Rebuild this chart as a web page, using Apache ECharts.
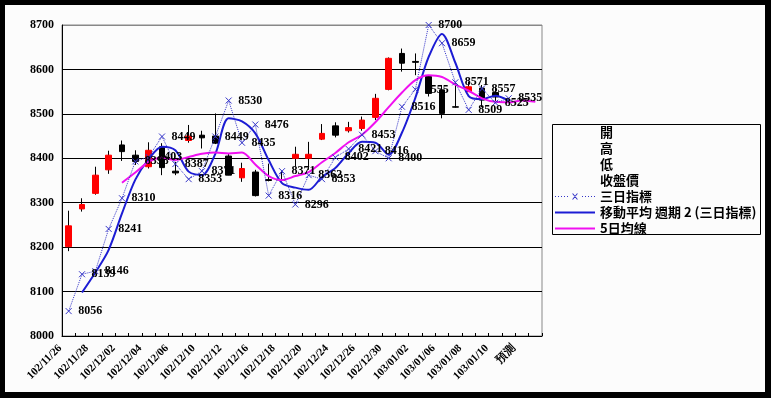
<!DOCTYPE html>
<html><head><meta charset="utf-8">
<script src="https://cdn.jsdelivr.net/npm/echarts@6/dist/echarts.min.js"></script>
<style>
html,body{margin:0;padding:0;background:#000;}
#panel{position:absolute;left:5px;top:5px;width:760px;height:387px;background:#fcfcfc;}
#c{position:absolute;left:0;top:0;width:771px;height:398px;}
</style>
</head><body><div id="panel"></div><div id="c"></div>
<script>
// Categories (trading days, ROC calendar)
const dates = ['102/11/26','102/11/27','102/11/28','102/11/29','102/12/02','102/12/03','102/12/04','102/12/05','102/12/06','102/12/09',
  '102/12/10','102/12/11','102/12/12','102/12/13','102/12/16','102/12/17','102/12/18','102/12/19','102/12/20','102/12/23',
  '102/12/24','102/12/25','102/12/26','102/12/27','102/12/30','102/12/31','103/01/02','103/01/03','103/01/06','103/01/07',
  '103/01/08','103/01/09','103/01/10','103/01/13','預測',''];
// Candles
const opens  = [8201,8286,8321,8374,8430,8407,8381,8426,8371,8440,8452,8450,8405,8356,8369,8352,8351,8400,8400,8443,8473,8462,8467,8492,8555,8636,8618,8584,8554,8516,8550,8558,8548,null,null,null];
const closes = [8248,8296,8362,8407,8415,8393,8418,8379,8367,8450,8446,8434,8362,8377,8316,8350,8350,8409,8409,8456,8452,8469,8486,8535,8625,8614,8616,8546,8501,8515,8561,8531,8538,null,null,null];
const lows   = [8191,8280,8318,8365,8394,8385,8377,8362,8362,8435,8422,8432,8362,8347,8314,8348,8348,8381,8374,8441,8447,8458,8462,8486,8553,8595,8587,8539,8490,8514,8550,8515,8528,null,null,null];
const highs  = [8282,8310,8381,8417,8440,8418,8436,8434,8392,8475,8462,8501,8410,8390,8374,8388,8372,8426,8437,8477,8481,8482,8494,8545,8627,8647,8636,8587,8565,8569,8572,8565,8560,null,null,null];
// 三日指標
const sanRi = [8056,8139,8146,8241,8310,8393,8403,8449,8387,8353,8371,8449,8530,8435,8476,8316,8371,8296,8362,8353,8402,8421,8453,8416,8400,8516,8555,8700,8659,8571,8509,8557,8525,8535,null,null];
// 移動平均 週期 2 (三日指標)
const ma2 = [null,8098,8143,8194,8276,8352,8398,8426,8418,8370,8362,8410,8490,8483,8456,8396,8344,8334,8329,8358,8378,8412,8437,8435,8408,8458,8536,8628,8680,8615,8540,8533,8541,8530,null,null];
// 5日均線
const ma5 = [null,null,null,null,8345,8368,8392,8401,8396,8403,8410,8413,8411,8413,8386,8360,8351,8360,8369,8391,8412,8436,8453,8481,8515,8548,8576,8587,8583,8566,8552,8535,8527,8526,8530,8527];
const legendNames = ['開','高','低','收盤價','三日指標','移動平均 週期 2 (三日指標)','5日均線'];

const wickData = dates.map((d,i)=> opens[i]==null ? '-' : [opens[i], closes[i], lows[i], highs[i]]);
const bodyData = dates.map((d,i)=> opens[i]==null ? '-' : [opens[i], closes[i], Math.min(opens[i],closes[i]), Math.max(opens[i],closes[i])]);

const serif = 'Liberation Serif';
const chart = echarts.init(document.getElementById('c'), null, {renderer:'canvas'});
const blank = {opacity:0};
const lineIcon = 'path://M0,0L40,0L40,2L0,2Z';
// dotted line with small x for the legend icon
let dotPath = '';
for (let x = 0; x <= 39; x += 3) { if (x > 14 && x < 25) continue; dotPath += 'M' + x + ',5.5L' + (x+1) + ',5.5L' + (x+1) + ',6.5L' + x + ',6.5Z'; }
dotPath += 'M17,3L18.2,3L23,9L21.8,9ZM23,3L21.8,3L17,9L18.2,9Z';
const dotIcon = 'path://' + dotPath;
chart.setOption({
  backgroundColor: 'transparent',
  animation: false,
  grid: {left:62, right:229, top:25, bottom:62, show:true, borderColor:'#888', borderWidth:1, backgroundColor:'transparent'},
  graphic: [{type:'rect', shape:{x:552.5, y:124.5, width:208, height:110}, style:{fill:'none', stroke:'#000', lineWidth:1}, silent:true}],
  legend: {
    orient:'vertical', left:554, top:126, itemWidth:40, itemHeight:13, itemGap:3, padding:0,
    textStyle:{fontFamily:'Noto Sans CJK TC', fontSize:13, color:'#000', fontWeight:'bold'},
    data: legendNames.map((n,i)=> i<4 ? {name:n, itemStyle:blank, lineStyle:blank}
                                      : (i===4 ? {name:n, icon:dotIcon, itemStyle:{color:'#3535c8', borderWidth:0}}
                                               : {name:n, icon:lineIcon}))
  },
  xAxis: {
    type:'category', data:dates, boundaryGap:true,
    axisLine:{lineStyle:{color:'#000', width:1}},
    axisTick:{show:true, inside:true, length:3, interval:0, lineStyle:{color:'#000'}},
    axisLabel:{interval:1, rotate:45, margin:2, padding:[0,12,0,0], fontFamily:serif, fontWeight:'bold', fontSize:11, color:'#000'},
    splitLine:{show:false}
  },
  yAxis: {
    type:'value', min:8000, max:8700, interval:100,
    axisLine:{show:true, lineStyle:{color:'#000'}},
    axisTick:{show:false},
    axisLabel:{margin:8, fontFamily:serif, fontWeight:'bold', fontSize:12, color:'#000', formatter:(v)=>String(v)},
    splitLine:{show:true, lineStyle:{color:['#000','#000','#000','#000','#000','#000','#000','#888'], width:1}}
  },
  series: [
    {name:'開', type:'line', data:[], itemStyle:blank, lineStyle:blank},
    {name:'高', type:'line', data:[], itemStyle:blank, lineStyle:blank},
    {name:'低', type:'line', data:[], itemStyle:blank, lineStyle:blank},
    {name:'收盤價', type:'line', data:[], itemStyle:blank, lineStyle:blank},
    {name:'wick', type:'candlestick', data:wickData, barWidth:1, z:1,
      itemStyle:{color:'#000', color0:'#000', borderColor:'#000', borderColor0:'#000', borderColorDoji:'#000', borderWidth:1}},
    {name:'body', type:'candlestick', data:bodyData, barWidth:6, z:1,
      itemStyle:{color:'#ff0000', color0:'#000', borderColor:'#ff0000', borderColor0:'#000', borderColorDoji:'#000', borderWidth:1}},
    {name:'三日指標', type:'line', data:sanRi, z:5,
      symbol:'path://M0,0L10,10M10,0L0,10', symbolSize:6, showSymbol:true,
      itemStyle:{color:'#3535c8', borderColor:'#3535c8', borderWidth:1},
      lineStyle:{color:'#3535c8', width:1, type:'dotted'},
      label:{show:true, position:'right', distance:6, fontFamily:serif, fontWeight:'bold', fontSize:12, color:'#000'}},
    {name:'移動平均 週期 2 (三日指標)', type:'line', data:ma2, z:3, smooth:0.3, symbol:'none',
      itemStyle:{color:'#1c1cd4'}, lineStyle:{color:'#1c1cd4', width:2}},
    {name:'5日均線', type:'line', data:ma5, z:3, smooth:0.3, symbol:'none',
      itemStyle:{color:'#f010f0'}, lineStyle:{color:'#f010f0', width:2}}
  ]
});
</script>
</body></html>
